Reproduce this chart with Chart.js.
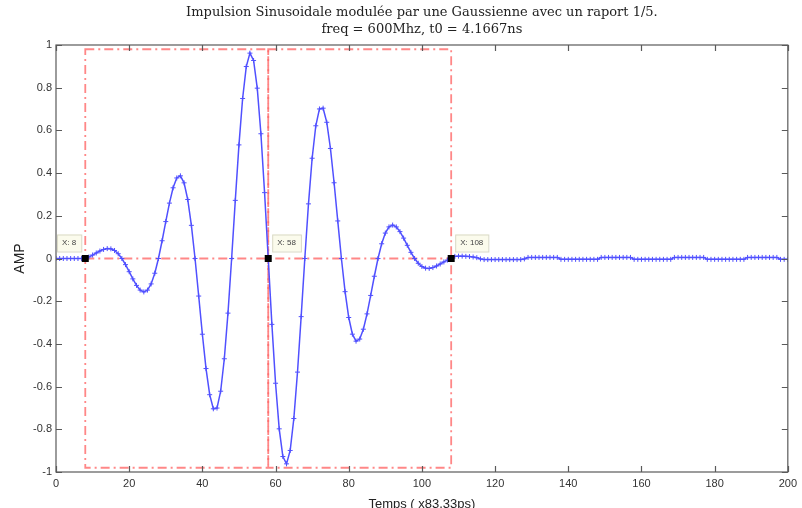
<!DOCTYPE html>
<html>
<head>
<meta charset="utf-8">
<script src="https://cdn.jsdelivr.net/npm/chart.js@4/dist/chart.umd.min.js"></script>
<style>
  html, body { margin: 0; padding: 0; background: #fff; }
  #wrap { width: 802px; height: 508px; }
</style>
</head>
<body>
<div id="wrap"><canvas id="pulseChart" width="802" height="508"></canvas></div>
<script>
  // ── DONNÉES ──────────────────────────────────────────────
  const chartTitle = ['Impulsion Sinusoidale modulée par une Gaussienne avec un raport 1/5.',
                      'freq = 600Mhz, t0 = 4.1667ns'];
  const xTitle = 'Temps ( x83.33ps)';
  const yTitle = 'AMP';

  const xTicks = [0, 20, 40, 60, 80, 100, 120, 140, 160, 180, 200];
  const yTicks = [-1, -0.8, -0.6, -0.4, -0.2, 0, 0.2, 0.4, 0.6, 0.8, 1];

  // échantillons 0..108 (impulsion)
  const pulseAmp = [
    0, 0, 0, 0, 0, 0, 0, 0,
    0, 0.0073, 0.0162, 0.0258, 0.0350, 0.0425, 0.0464, 0.0452, 0.0375, 0.0224,
    0, -0.0288, -0.0618, -0.0955, -0.1259, -0.1479, -0.1566, -0.1480, -0.1190, -0.0690,
    0, 0.0832, 0.1730, 0.2594, 0.3312, 0.3772, 0.3872, 0.3544, 0.2764, 0.1553,
    0, -0.1759, -0.3547, -0.5154, -0.6379, -0.7040, -0.7005, -0.6216, -0.4697, -0.2559,
    0, 0.2723, 0.5321, 0.7495, 0.8991, 0.9618, 0.9275, 0.7978, 0.5843, 0.3085,
    0, -0.3085, -0.5843, -0.7978, -0.9275, -0.9618, -0.8991, -0.7495, -0.5321, -0.2723,
    0, 0.2559, 0.4697, 0.6216, 0.7005, 0.7040, 0.6379, 0.5154, 0.3547, 0.1759,
    0, -0.1553, -0.2764, -0.3544, -0.3872, -0.3772, -0.3312, -0.2594, -0.1730, -0.0832,
    0, 0.0690, 0.1190, 0.1480, 0.1566, 0.1479, 0.1259, 0.0955, 0.0618, 0.0288,
    0, -0.0224, -0.0375, -0.0452, -0.0464, -0.0425, -0.0350, -0.0258, -0.0162, -0.0073,
    0
  ];

  // échantillons 109..200 (résidu)
  const tailAmp = [
    0.010, 0.011, 0.011, 0.010, 0.009, 0.007, 0.004,
    -0.002, -0.005, -0.005, -0.005, -0.005, -0.005, -0.005, -0.005, -0.005, -0.005, -0.005, -0.005, -0.002,
    0.005, 0.005, 0.005, 0.005, 0.005, 0.005, 0.005, 0.005, 0.005,
    -0.004, -0.004, -0.004, -0.004, -0.004, -0.004, -0.004, -0.004, -0.004, -0.004, -0.004,
    0.005, 0.005, 0.005, 0.005, 0.005, 0.005, 0.005, 0.005, 0.005,
    -0.004, -0.004, -0.004, -0.004, -0.004, -0.004, -0.004, -0.004, -0.004, -0.004, -0.004,
    0.005, 0.005, 0.005, 0.005, 0.005, 0.005, 0.005, 0.005, 0.005,
    -0.004, -0.004, -0.004, -0.004, -0.004, -0.004, -0.004, -0.004, -0.004, -0.004, -0.004,
    0.005, 0.005, 0.005, 0.005, 0.005, 0.005, 0.005, 0.005, 0.005,
    -0.004, -0.004, -0.004
  ];

  // cadres rouges (en unités des axes)
  const boxXRanges = [[8, 58], [58, 108]];
  const boxYRange = [-0.98, 0.98];
  const zeroLineX = [8, 108];

  // data tips
  const tipX = [8, 58, 108];
  const tipSide = ['left', 'right', 'right'];

  const amp = pulseAmp.concat(tailAmp);
  const points = amp.map((v, i) => ({ x: i, y: v }));

  // ── DÉCOR STYLE MATLAB ──────────────────────────────────
  const redLines = {
    id: 'redLines',
    beforeDatasetsDraw(chart) {
      const { ctx, scales: { x, y } } = chart;
      ctx.save();
      ctx.strokeStyle = 'rgba(255,105,105,0.8)';
      ctx.lineWidth = 1.8;
      ctx.setLineDash([9, 4, 2, 4]);
      boxXRanges.forEach(r => {
        const x0 = x.getPixelForValue(r[0]), x1 = x.getPixelForValue(r[1]);
        const y0 = y.getPixelForValue(boxYRange[1]), y1 = y.getPixelForValue(boxYRange[0]);
        ctx.strokeRect(x0, y0, x1 - x0, y1 - y0);
      });
      ctx.beginPath();
      ctx.moveTo(x.getPixelForValue(zeroLineX[0]), y.getPixelForValue(0));
      ctx.lineTo(x.getPixelForValue(zeroLineX[1]), y.getPixelForValue(0));
      ctx.stroke();
      ctx.restore();
    }
  };

  const matlabFrame = {
    id: 'matlabFrame',
    afterDatasetsDraw(chart) {
      const { ctx, chartArea: a, scales: { x, y } } = chart;
      ctx.save();
      ctx.strokeStyle = '#5a5a5a';
      ctx.lineWidth = 1.2;
      ctx.strokeRect(a.left, a.top, a.right - a.left, a.bottom - a.top);
      ctx.beginPath();
      xTicks.forEach(t => {
        const px = Math.round(x.getPixelForValue(t)) + 0.5;
        ctx.moveTo(px, a.bottom); ctx.lineTo(px, a.bottom - 6);
        ctx.moveTo(px, a.top); ctx.lineTo(px, a.top + 6);
      });
      yTicks.forEach(t => {
        const py = Math.round(y.getPixelForValue(t)) + 0.5;
        ctx.moveTo(a.left, py); ctx.lineTo(a.left + 6, py);
        ctx.moveTo(a.right, py); ctx.lineTo(a.right - 6, py);
      });
      ctx.stroke();

      // data tips
      ctx.font = '8px "Liberation Sans", Arial, sans-serif';
      ctx.textBaseline = 'middle';
      tipX.forEach((v, i) => {
        const px = x.getPixelForValue(v), py = y.getPixelForValue(amp[v]);
        ctx.fillStyle = '#000';
        ctx.fillRect(px - 3.5, py - 3.5, 7, 7);
        const label = 'X: ' + v;
        const w = ctx.measureText(label).width + 10;
        const h = 17;
        const bx = tipSide[i] === 'left' ? px - 4 - w : px + 4;
        const by = py - 24;
        ctx.fillStyle = '#fbfbec';
        ctx.strokeStyle = '#d9d9c6';
        ctx.lineWidth = 1;
        ctx.fillRect(bx, by, w, h);
        ctx.strokeRect(bx + 0.5, by + 0.5, w, h);
        ctx.fillStyle = '#444';
        ctx.fillText(label, bx + 5, by + h / 2);
      });
      ctx.restore();
    }
  };

  // ── GRAPHIQUE ───────────────────────────────────────────
  const ctx = document.getElementById('pulseChart').getContext('2d');
  new Chart(ctx, {
    type: 'line',
    data: {
      datasets: [{
        data: points,
        borderColor: '#5050ff',
        borderWidth: 1.5,
        pointStyle: 'cross',
        pointRadius: 2.5,
        pointBorderColor: '#5050ff',
        pointBorderWidth: 1,
        pointBackgroundColor: '#5050ff',
        tension: 0
      }]
    },
    options: {
      responsive: false,
      animation: false,
      layout: { padding: { right: 13 } },
      plugins: {
        legend: { display: false },
        tooltip: { enabled: false },
        title: {
          display: true,
          fullSize: false,
          text: chartTitle,
          color: '#222',
          font: { family: '"DejaVu Serif", serif', size: 13, weight: 'normal', lineHeight: 1.3 },
          padding: { top: 4.5, bottom: 6.7 }
        }
      },
      scales: {
        x: {
          type: 'linear',
          min: 0, max: 200,
          afterBuildTicks: s => { s.ticks = xTicks.map(v => ({ value: v })); },
          ticks: { color: '#333', font: { family: '"Liberation Sans", Arial, sans-serif', size: 11 }, padding: 5, maxRotation: 0, autoSkip: false },
          grid: { display: false, drawTicks: false },
          border: { display: false },
          title: { display: true, text: xTitle, color: '#222', font: { family: '"Liberation Sans", Arial, sans-serif', size: 13 }, padding: { top: 0, bottom: -4 } },
          afterFit: s => { s.height = 36; }
        },
        y: {
          type: 'linear',
          min: -1, max: 1,
          afterBuildTicks: s => { s.ticks = yTicks.map(v => ({ value: v })); },
          ticks: {
            color: '#333',
            font: { family: '"Liberation Sans", Arial, sans-serif', size: 11 },
            padding: 4,
            autoSkip: false,
            callback: v => String(Math.round(v * 10) / 10)
          },
          grid: { display: false, drawTicks: false },
          border: { display: false },
          title: { display: true, text: yTitle, color: '#222', font: { family: '"Liberation Sans", Arial, sans-serif', size: 14 }, padding: { top: 12, bottom: 0 } },
          afterFit: s => { s.width = 56; }
        }
      }
    },
    plugins: [redLines, matlabFrame]
  });
</script>
</body>
</html>
